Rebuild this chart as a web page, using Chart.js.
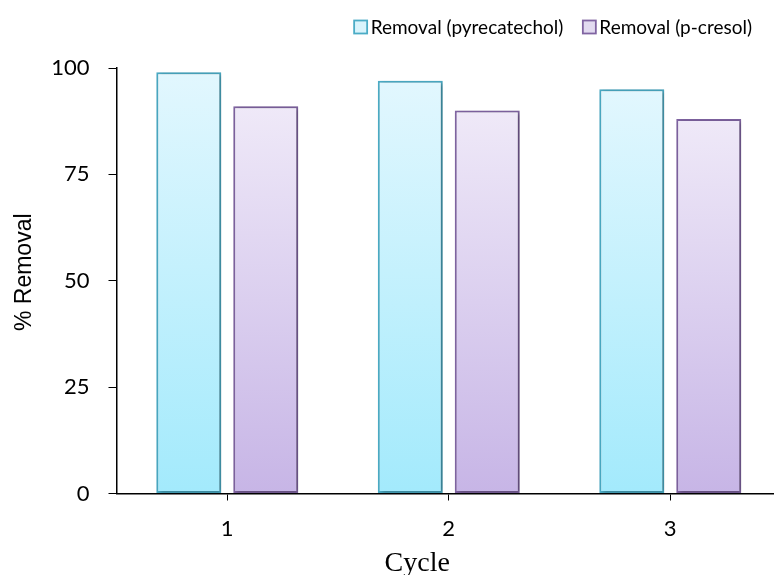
<!DOCTYPE html>
<html>
<head>
<meta charset="utf-8">
<script src="https://cdn.jsdelivr.net/npm/chart.js@4"></script>
<style>
  html, body { margin: 0; padding: 0; background: #fff; overflow: hidden; }
  #wrap { width: 800px; height: 575px; }
</style>
</head>
<body>
<div id="wrap"><canvas id="c" width="800" height="575"></canvas></div>
<script>
// Removal efficiency over reuse cycles
const cycles = ['1', '2', '3'];
const pyrecatechol = [99, 97, 95];
const pCresol = [91, 90, 88];
const yTicks = [0, 25, 50, 75, 100];

const LABEL_FONT = 'Lato';

function barGradient(top, bottom) {
  return function (ctx) {
    const chart = ctx.chart;
    if (!chart.chartArea || ctx.raw === undefined) return bottom;
    const ys = chart.scales.y;
    const y0 = ys.getPixelForValue(ctx.raw);
    const y1 = ys.getPixelForValue(0);
    const g = chart.ctx.createLinearGradient(0, y0, 0, y1);
    g.addColorStop(0, top);
    g.addColorStop(1, bottom);
    return g;
  };
}

// soft drop shadow behind the bars
const barShadow = {
  id: 'barShadow',
  beforeDatasetsDraw(chart) {
    const c = chart.ctx;
    c.save();
    c.shadowColor = 'rgba(0,0,0,0.32)';
    c.shadowBlur = 4;
    c.shadowOffsetX = 2;
    c.shadowOffsetY = 1;
  },
  afterDatasetsDraw(chart) {
    chart.ctx.restore();
  }
};

// shift the axis titles off-centre: the x title sits left of the middle
// and a little lower, the y title a little above the middle
const titleOffsets = {
  id: 'titleOffsets',
  afterLayout(chart) {
    const shift = (scale, deltas) => {
      if (scale._titlePatched) return;
      const orig = scale.drawTitle.bind(scale);
      scale.drawTitle = function () {
        const keep = {};
        for (const k in deltas) { keep[k] = this[k]; this[k] += deltas[k]; }
        orig();
        for (const k in deltas) this[k] = keep[k];
      };
      scale._titlePatched = true;
    };
    shift(chart.scales.x, { right: -63, bottom: 5 });
    shift(chart.scales.y, { bottom: -17 });
  }
};

// legend row, right-aligned above the plot
const topLegend = {
  id: 'topLegend',
  afterDraw(chart) {
    const c = chart.ctx;
    const right = 752, box = 13, boxGap = 4, itemGap = 19, cy = 27;
    c.save();
    c.font = '19px ' + LABEL_FONT;
    c.textBaseline = 'middle';
    c.textAlign = 'left';
    const items = chart.data.datasets.map(ds => ({
      text: ds.label, fill: ds.legendFill, stroke: ds.borderColor,
      w: c.measureText(ds.label).width
    }));
    let total = 0;
    items.forEach((it, i) => { total += box + boxGap + it.w + (i ? itemGap : 0); });
    let x = right - total;
    items.forEach(it => {
      c.fillStyle = it.fill;
      c.fillRect(x + 0.5, cy - box / 2, box, box);
      c.strokeStyle = it.stroke;
      c.lineWidth = 1.8;
      c.strokeRect(x + 0.5, cy - box / 2, box, box);
      c.fillStyle = '#000';
      c.fillText(it.text, x + box + boxGap, cy + 1);
      x += box + boxGap + it.w + itemGap;
    });
    c.restore();
  }
};

new Chart(document.getElementById('c'), {
  type: 'bar',
  data: {
    labels: cycles,
    datasets: [
      {
        label: 'Removal (pyrecatechol)',
        data: pyrecatechol,
        backgroundColor: barGradient('#E2F7FE', '#A3EAFC'),
        borderColor: '#4BACC6',
        legendFill: '#D9F4FC',
        borderWidth: 2,
        borderSkipped: false
      },
      {
        label: 'Removal (p-cresol)',
        data: pCresol,
        backgroundColor: barGradient('#EFE9F8', '#C7B5E6'),
        borderColor: '#8064A2',
        legendFill: '#E2DAF0',
        borderWidth: 2,
        borderSkipped: false
      }
    ]
  },
  options: {
    responsive: false,
    animation: false,
    devicePixelRatio: 1,
    layout: { padding: { left: 0, right: 19, top: 68, bottom: 0 } },
    datasets: {
      bar: { categoryPercentage: 0.695, barPercentage: 0.844 }
    },
    plugins: {
      legend: { display: false },
      tooltip: { enabled: false }
    },
    scales: {
      x: {
        grid: {
          offset: false, drawOnChartArea: false, drawTicks: true,
          tickLength: 7, color: '#000', lineWidth: 1
        },
        border: { display: true, color: '#000', width: 1.5 },
        ticks: { color: '#000', font: { family: LABEL_FONT, size: 22 }, padding: 15 },
        title: {
          display: true, text: 'Cycle', color: '#000',
          font: { family: 'Liberation Serif', size: 28 },
          padding: { top: 0, bottom: 0 }
        },
        afterFit(scale) { scale.height = 81.5; }
      },
      y: {
        min: 0, max: 100,
        afterBuildTicks(scale) { scale.ticks = yTicks.map(v => ({ value: v })); },
        grid: {
          drawOnChartArea: false, drawTicks: true,
          tickLength: 8, color: '#000', lineWidth: 1
        },
        border: { display: true, color: '#000', width: 1.5 },
        ticks: { color: '#000', font: { family: LABEL_FONT, size: 22 }, padding: 19 },
        title: {
          display: true, text: '% Removal', color: '#000',
          font: { family: 'Liberation Sans', size: 23 },
          padding: { top: 11, bottom: 0 }
        },
        afterFit(scale) { scale.width = 116.5; }
      }
    }
  },
  plugins: [barShadow, titleOffsets, topLegend]
});
</script>
</body>
</html>
